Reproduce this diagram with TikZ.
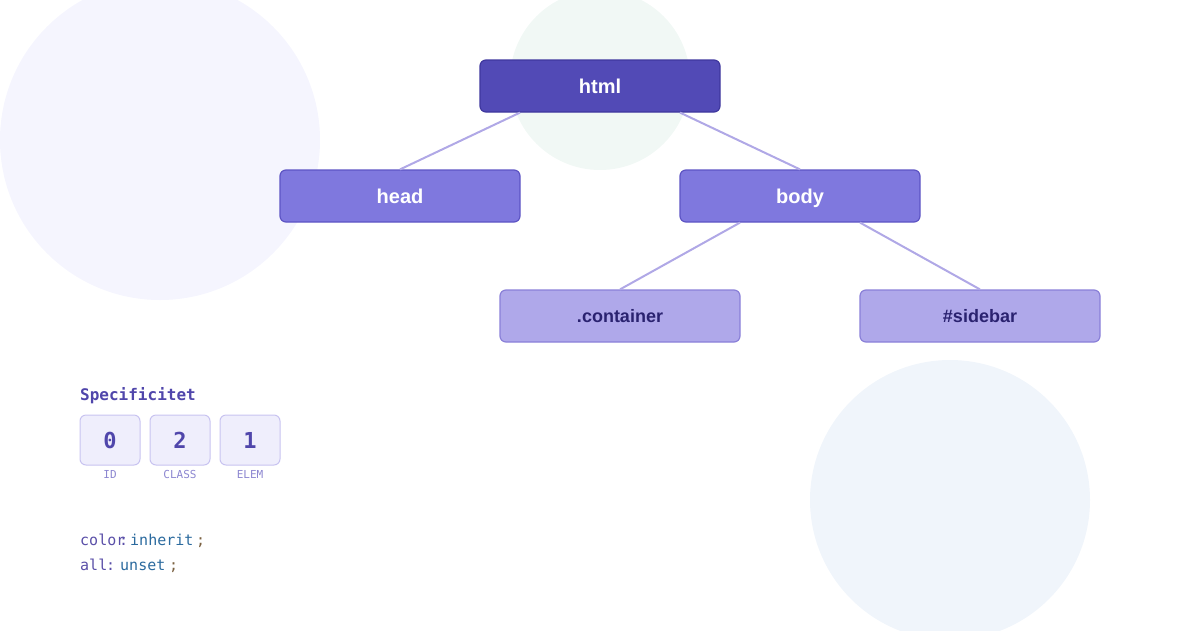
\documentclass[tikz,border=0pt]{standalone}
\usepackage{fontspec}
\setmainfont{Liberation Sans}
\newfontfamily\monof{DejaVu Sans Mono}
\definecolor{c1}{HTML}{524AB6}
\definecolor{c1b}{HTML}{3F379E}
\definecolor{c2}{HTML}{7F78DE}
\definecolor{c2b}{HTML}{5D54C4}
\definecolor{c3}{HTML}{AFA8EA}
\definecolor{c3b}{HTML}{8A80D8}
\definecolor{c3t}{HTML}{2A2270}
\definecolor{edge}{HTML}{B0A8E6}
\definecolor{bgA}{HTML}{F5F5FE}
\definecolor{bgB}{HTML}{F1F8F5}
\definecolor{bgC}{HTML}{F0F5FB}
\definecolor{spec}{HTML}{5046AB}
\definecolor{boxf}{HTML}{EFEEFC}
\definecolor{boxb}{HTML}{C8C3F0}
\definecolor{lbl}{HTML}{8C86D0}
\definecolor{prop}{HTML}{5A4FA8}
\definecolor{val}{HTML}{2B6A9E}
\definecolor{semi}{HTML}{7A6040}
\begin{document}
\begin{tikzpicture}[x=1pt,y=-1pt,
  tnode/.style={rounded corners=6pt, minimum width=240pt, minimum height=52pt, line width=1.2pt, font=\bfseries\fontsize{20}{24}\selectfont, inner sep=0pt, text height=16pt, text depth=2pt},
  lvl1/.style={tnode, fill=c1, draw=c1b, text=white},
  lvl2/.style={tnode, fill=c2, draw=c2b, text=white},
  lvl3/.style={tnode, fill=c3, draw=c3b, text=c3t, font=\bfseries\fontsize{18}{22}\selectfont, text height=15pt, text depth=1.5pt},
  conn/.style={draw=edge, line width=2pt},
  sbox/.style={rounded corners=6pt, minimum width=60pt, minimum height=50pt, fill=boxf, draw=boxb, line width=1pt, text=spec, font=\monof\bfseries\fontsize{22}{26}\selectfont, inner sep=0pt},
  slbl/.style={text=lbl, font=\monof\fontsize{11}{13}\selectfont, inner sep=0pt},
  code/.style={font=\monof\fontsize{15}{18}\selectfont, inner sep=0pt, anchor=base west}
]
\useasboundingbox (0,0) rectangle (1200,630);
\clip (0,0) rectangle (1200,630);
\fill[bgA] (160,140) circle (160);
\fill[bgB] (600,80) circle (90);
\fill[bgC] (950,500) circle (140);

\node[lvl1] (html) at (600,86) {html};
\node[lvl2] (head) at (400,196) {head};
\node[lvl2] (body) at (800,196) {body};
\node[lvl3] (cont) at (620,316) {.container};
\node[lvl3] (side) at (980,316) {\#sidebar};

\draw[conn] ([xshift=-80pt]html.south) -- (head.north);
\draw[conn] ([xshift=80pt]html.south) -- (body.north);
\draw[conn] ([xshift=-60pt]body.south) -- (cont.north);
\draw[conn] ([xshift=60pt]body.south) -- (side.north);

\node[text=spec, font=\monof\bfseries\fontsize{16}{19}\selectfont, inner sep=0pt, anchor=base west] (spt) at (80,400) {Specificitet};
\node[sbox] (b1) at (110,440) {0};
\node[sbox] (b2) at (180,440) {2};
\node[sbox] (b3) at (250,440) {1};
\node[slbl] (l1) at (110,474) {ID};
\node[slbl] (l2) at (180,474) {CLASS};
\node[slbl] (l3) at (250,474) {ELEM};

\node[code, text=prop] (p1) at (80,545) {color};
\node[code, text=prop] (k1) at (119,545) {:};
\node[code, text=val] (v1) at (130,545) {inherit};
\node[code, text=semi] (s1) at (196,545) {;};
\node[code, text=prop] (p2) at (80,570) {all};
\node[code, text=prop] (k2) at (106,570) {:};
\node[code, text=val] (v2) at (120,570) {unset};
\node[code, text=semi] (s2) at (169,570) {;};
\end{tikzpicture}
\end{document}
